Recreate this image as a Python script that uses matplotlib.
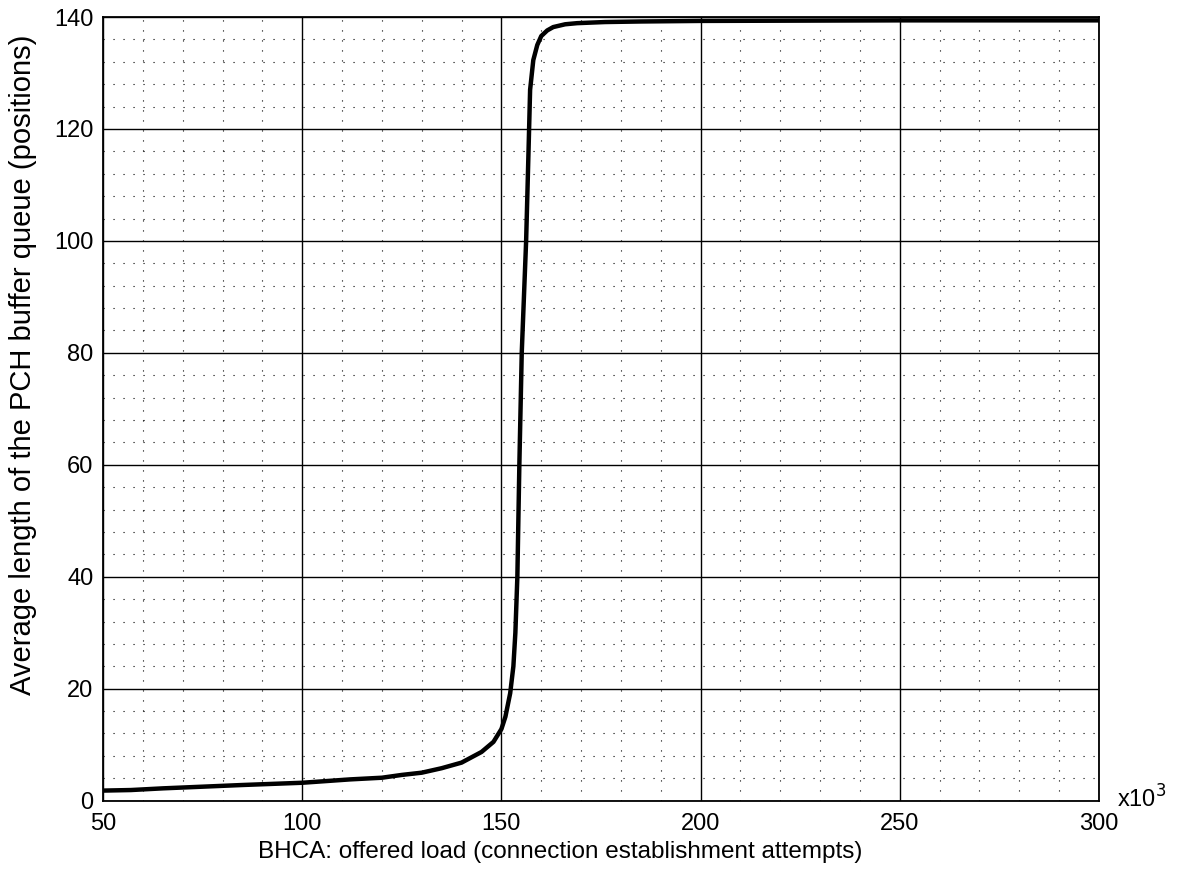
import matplotlib
matplotlib.use('Agg')
import matplotlib.pyplot as plt
from matplotlib.ticker import MultipleLocator

# offered load (x10^3 BHCA) vs average PCH buffer queue length
bhca = [50, 57, 65, 75, 85, 100, 112, 120, 125, 130, 135, 140, 145, 148, 150,
        151, 152.2, 153, 153.5, 154, 154.5, 155.1, 156.2, 156.8, 157.2, 158,
        159, 160, 161.5, 163, 166, 169, 176, 185, 200, 250, 300]
queue_len = [1.8, 1.9, 2.2, 2.5, 2.8, 3.2, 3.8, 4.1, 4.6, 5.0, 5.8, 6.8, 8.7,
             10.5, 12.8, 15, 19.2, 24, 30, 40, 60, 80, 100, 116, 127, 132.3,
             135, 136.6, 137.6, 138.2, 138.7, 138.9, 139.1, 139.2, 139.3,
             139.4, 139.4]

x_ticks = [50, 100, 150, 200, 250, 300]
y_ticks = [0, 20, 40, 60, 80, 100, 120, 140]

plt.rcParams['font.family'] = ['Liberation Sans', 'DejaVu Sans']

fig = plt.figure(figsize=(11.83, 8.72), dpi=100)
ax = fig.add_axes([0.0871, 0.0818, 0.8419, 0.8987])

ax.plot(bhca, queue_len, color='black', linewidth=3.2, zorder=5)

ax.set_xlim(50, 300)
ax.set_ylim(0, 140)
ax.set_xticks(x_ticks)
ax.set_yticks(y_ticks)
ax.xaxis.set_minor_locator(MultipleLocator(10))
ax.yaxis.set_minor_locator(MultipleLocator(4))

ax.grid(True, which='major', color='black', linewidth=1.0, linestyle='-')
ax.grid(True, which='minor', color='black', linewidth=0.8,
        linestyle=(0, (1, 8)))
ax.set_axisbelow(True)

for s in ax.spines.values():
    s.set_linewidth(1.3)
    s.set_color('black')

ax.tick_params(which='both', direction='in', length=0, labelsize=17,
               colors='black')
ax.tick_params(axis='x', pad=9)
ax.tick_params(axis='y', pad=7)

ax.set_xlabel('BHCA: offered load (connection establishment attempts)',
              fontsize=17.5)
ax.xaxis.set_label_coords(0.459, -0.052)
ax.set_ylabel('Average length of the PCH buffer queue (positions)',
              fontsize=21)
ax.yaxis.set_label_coords(-0.066, 0.556)

ax.text(1.018, -0.009, r'x10$^3$', transform=ax.transAxes, fontsize=17,
        ha='left', va='baseline')

fig.savefig('out.png', dpi=100, facecolor='white')
